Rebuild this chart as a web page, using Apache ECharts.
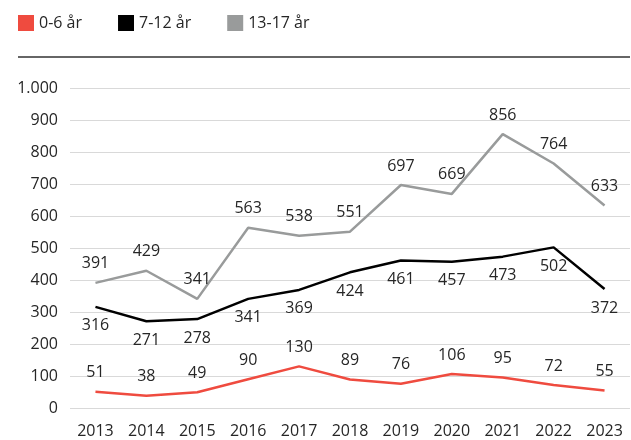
<!DOCTYPE html>
<html>
<head>
    <meta charset="utf-8">
    <title>Chart</title>
    <script src="https://cdn.jsdelivr.net/npm/echarts@6/dist/echarts.min.js"></script>
    <style>
        html, body { margin: 0; padding: 0; background: #fff; }
        #main { width: 631px; height: 440px; }
    </style>
</head>
<body>
<div id="main"></div>
<script type="text/javascript">
    // år
    var years = ['2013', '2014', '2015', '2016', '2017', '2018', '2019', '2020', '2021', '2022', '2023'];
    // 0-6 år
    var age0to6 = [51, 38, 49, 90, 130, 89, 76, 106, 95, 72, 55];
    // 7-12 år
    var age7to12 = [316, 271, 278, 341, 369, 424, 461, 457, 473, 502, 372];
    // 13-17 år
    var age13to17 = [391, 429, 341, 563, 538, 551, 697, 669, 856, 764, 633];

    var textColor = '#262626';
    var fontFam = '"Open Sans", "Noto Sans", sans-serif';

    var myChart = echarts.init(document.getElementById('main'));

    function makeSeries(name, data, color, pos) {
        return {
            name: name,
            type: 'line',
            data: data,
            symbol: 'circle',
            symbolSize: 0,
            showSymbol: true,
            lineStyle: { color: color, width: 2.5 },
            itemStyle: { color: color },
            label: {
                show: true,
                position: pos,
                distance: 11,
                color: textColor,
                fontSize: 16,
                fontFamily: fontFam
            }
        };
    }

    myChart.setOption({
        animation: false,
        textStyle: { fontFamily: fontFam },
        legend: {
            left: 18,
            top: 15,
            padding: 0,
            icon: 'rect',
            itemWidth: 16,
            itemHeight: 16,
            itemGap: 36,
            textStyle: { color: textColor, fontSize: 16, fontFamily: fontFam },
            data: ['0-6 år', '7-12 år', '13-17 år']
        },
        graphic: [{
            type: 'line',
            shape: { x1: 18, y1: 57, x2: 630, y2: 57 },
            style: { stroke: '#333', lineWidth: 1.5 }
        }],
        grid: { left: 70, right: 1, top: 88, bottom: 32 },
        xAxis: {
            type: 'category',
            data: years,
            axisLine: { show: false },
            axisTick: { show: false },
            axisLabel: { color: textColor, fontSize: 16, margin: 15 }
        },
        yAxis: {
            type: 'value',
            min: 0,
            max: 1000,
            interval: 100,
            axisLabel: {
                color: textColor,
                fontSize: 16,
                margin: 12,
                formatter: function (v) { return v === 1000 ? '1.000' : v; }
            },
            splitLine: { lineStyle: { color: '#d9d9d9', width: 1 } }
        },
        series: [
            makeSeries('0-6 år', age0to6, '#ef4b3f', 'top'),
            makeSeries('7-12 år', age7to12, '#000000', 'bottom'),
            makeSeries('13-17 år', age13to17, '#999b9b', 'top')
        ]
    });
</script>
</body>
</html>
